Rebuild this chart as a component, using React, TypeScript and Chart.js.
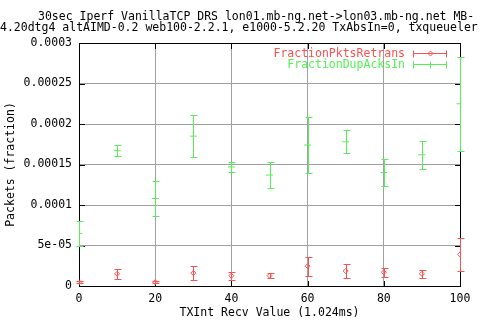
import React, { useEffect, useRef } from "react";
import { Chart, registerables } from "chart.js";

Chart.register(...registerables);

const titleLines = [
  "30sec Iperf VanillaTCP DRS lon01.mb-ng.net->lon03.mb-ng.net MB-",
  "4.20dtg4 altAIMD-0.2 web100-2.2.1, e1000-5.2.20 TxAbsIn=0, txqueueler",
];
const xLabel = "TXInt Recv Value (1.024ms)";
const yLabel = "Packets (fraction)";
const xValues = [0, 10, 20, 30, 40, 50, 60, 70, 80, 90, 100];
const retransMean = [4.7e-6, 1.5e-5, 4.7e-6, 1.6e-5, 1.27e-5, 1.28e-5, 2.45e-5, 1.85e-5, 1.7e-5, 1.5e-5, 3.9e-5];
const retransErr = [1.5e-6, 0.65e-5, 1.5e-6, 0.85e-5, 0.47e-5, 0.33e-5, 1.17e-5, 0.9e-5, 0.55e-5, 0.5e-5, 2.0e-5];
const dupAcksMean = [6.5e-5, 1.67e-4, 1.08e-4, 1.85e-4, 1.47e-4, 1.37e-4, 1.74e-4, 1.78e-4, 1.4e-4, 1.62e-4, 2.25e-4];
const dupAcksErr = [1.5e-5, 0.7e-5, 2.15e-5, 2.6e-5, 0.65e-5, 1.6e-5, 3.5e-5, 1.4e-5, 1.65e-5, 1.73e-5, 5.8e-5];
const seriesNames = ["FractionPktsRetrans", "FractionDupAcksIn"];
const seriesColors = ["#ff5050", "#55f055"];
const xTickLabels = ["0", "20", "40", "60", "80", "100"];
const yTickLabels = ["0", "5e-05", "0.0001", "0.00015", "0.0002", "0.00025", "0.0003"];

const FAMILY = "'DejaVu Sans Mono', monospace";
const SIZE = 11.5;
const FONT = `${SIZE}px ${FAMILY}`;

const seriesList = [
  { mean: retransMean, err: retransErr, color: seriesColors[0], name: seriesNames[0], marker: "diamond" },
  { mean: dupAcksMean, err: dupAcksErr, color: seriesColors[1], name: seriesNames[1], marker: "tick" },
];

const crisp = (v: number) => Math.round(v) + 0.5;

const decorPlugin = {
  id: "gnuplotDecor",
  beforeDatasetsDraw(chart: any) {
    const ctx = chart.ctx;
    const xs = chart.scales.x;
    const ys = chart.scales.y;
    const { left, right, top, bottom } = chart.chartArea;
    ctx.save();
    ctx.lineWidth = 1;
    // border
    ctx.strokeStyle = "#000";
    ctx.strokeRect(left + 0.5, top + 0.5, right - left, bottom - top);
    // inner ticks
    ctx.beginPath();
    ys.ticks.forEach((t: any) => {
      const py = crisp(ys.getPixelForValue(t.value));
      ctx.moveTo(left, py);
      ctx.lineTo(left + 6, py);
      ctx.moveTo(right + 1, py);
      ctx.lineTo(right - 5, py);
    });
    xs.ticks.forEach((t: any) => {
      const px = crisp(xs.getPixelForValue(t.value));
      ctx.moveTo(px, top);
      ctx.lineTo(px, top + 6);
      ctx.moveTo(px, bottom + 1);
      ctx.lineTo(px, bottom - 5);
    });
    ctx.stroke();
    // error bars
    for (const s of seriesList) {
      ctx.strokeStyle = s.color;
      ctx.beginPath();
      xValues.forEach((xv, i) => {
        const px = crisp(xs.getPixelForValue(xv));
        const yTop = crisp(ys.getPixelForValue(s.mean[i] + s.err[i]));
        const yBot = crisp(ys.getPixelForValue(s.mean[i] - s.err[i]));
        ctx.moveTo(px, yTop);
        ctx.lineTo(px, yBot);
        ctx.moveTo(px - 3, yTop);
        ctx.lineTo(px + 4, yTop);
        ctx.moveTo(px - 3, yBot);
        ctx.lineTo(px + 4, yBot);
      });
      ctx.stroke();
    }
    ctx.restore();
  },
  afterDraw(chart: any) {
    const ctx = chart.ctx;
    const { right, top } = chart.chartArea;
    ctx.save();
    ctx.font = FONT;
    // legend
    seriesList.forEach((s, i) => {
      const y = crisp(top + 10 + i * 11);
      ctx.fillStyle = s.color;
      ctx.textAlign = "right";
      ctx.textBaseline = "middle";
      ctx.fillText(s.name, right - 55, y + 0.5);
      const x0 = right - 47 + 0.5;
      const x1 = right - 14 + 0.5;
      const xm = crisp((x0 + x1) / 2);
      ctx.strokeStyle = s.color;
      ctx.lineWidth = 1;
      ctx.beginPath();
      ctx.moveTo(x0, y);
      ctx.lineTo(x1, y);
      ctx.moveTo(x0, y - 3);
      ctx.lineTo(x0, y + 4);
      ctx.moveTo(x1, y - 3);
      ctx.lineTo(x1, y + 4);
      if (s.marker === "tick") {
        ctx.moveTo(xm, y - 3);
        ctx.lineTo(xm, y + 4);
      }
      ctx.stroke();
      if (s.marker === "diamond") {
        ctx.beginPath();
        ctx.moveTo(xm - 2.5, y);
        ctx.lineTo(xm, y - 2.5);
        ctx.lineTo(xm + 2.5, y);
        ctx.lineTo(xm, y + 2.5);
        ctx.closePath();
        ctx.stroke();
      }
    });
    // title
    ctx.fillStyle = "#000";
    ctx.textAlign = "left";
    ctx.textBaseline = "alphabetic";
    ctx.fillText(titleLines[0], 38, 20);
    ctx.fillText(titleLines[1], 0, 31);
    ctx.restore();
  },
};

export default function App() {
  const canvasRef = useRef<HTMLCanvasElement | null>(null);

  useEffect(() => {
    const canvas = canvasRef.current;
    if (!canvas) return;
    const font = { family: FAMILY, size: SIZE };
    const chart = new Chart(canvas, {
      type: "scatter",
      data: {
        datasets: seriesList.map((s) => ({
          label: s.name,
          data: xValues.map((x, i) => ({ x, y: s.mean[i] })),
          borderColor: s.color,
          backgroundColor: "rgba(0,0,0,0)",
          borderWidth: 1,
          pointStyle: s.marker === "diamond" ? "rectRot" : "line",
          pointRadius: s.marker === "diamond" ? 2.5 : 3.5,
          showLine: false,
        })),
      },
      options: {
        animation: false,
        responsive: false,
        devicePixelRatio: 1,
        layout: { padding: { top: 43, right: 20, left: 0, bottom: 0 } },
        plugins: {
          legend: { display: false },
          title: { display: false },
          tooltip: { enabled: false },
        },
        scales: {
          x: {
            type: "linear",
            min: 0,
            max: 100,
            ticks: {
              stepSize: 20,
              padding: 6,
              color: "#000",
              font,
              maxRotation: 0,
              autoSkip: false,
              callback: (_v: any, i: number) => xTickLabels[i],
            },
            grid: { color: "#a0a0a0", drawTicks: false },
            border: { display: false },
            title: { display: true, text: xLabel, color: "#000", font, padding: { top: 0, bottom: 0 } },
            afterFit(scale: any) {
              scale.height = 34;
            },
          },
          y: {
            type: "linear",
            min: 0,
            max: 0.0003,
            ticks: {
              stepSize: 0.00005,
              padding: 7,
              color: "#000",
              font,
              autoSkip: false,
              callback: (_v: any, i: number) => yTickLabels[i],
            },
            grid: { color: "#a0a0a0", drawTicks: false },
            border: { display: false },
            title: { display: true, text: yLabel, color: "#000", font, padding: { top: 4, bottom: 0 } },
            afterFit(scale: any) {
              scale.width = 79;
            },
          },
        },
      },
      plugins: [decorPlugin],
    } as any);
    return () => chart.destroy();
  }, []);

  return (
    <div style={{ position: "fixed", left: 0, top: 0, width: 480, height: 320, background: "#fff" }}>
      <canvas ref={canvasRef} width={480} height={320} style={{ display: "block" }} />
    </div>
  );
}
